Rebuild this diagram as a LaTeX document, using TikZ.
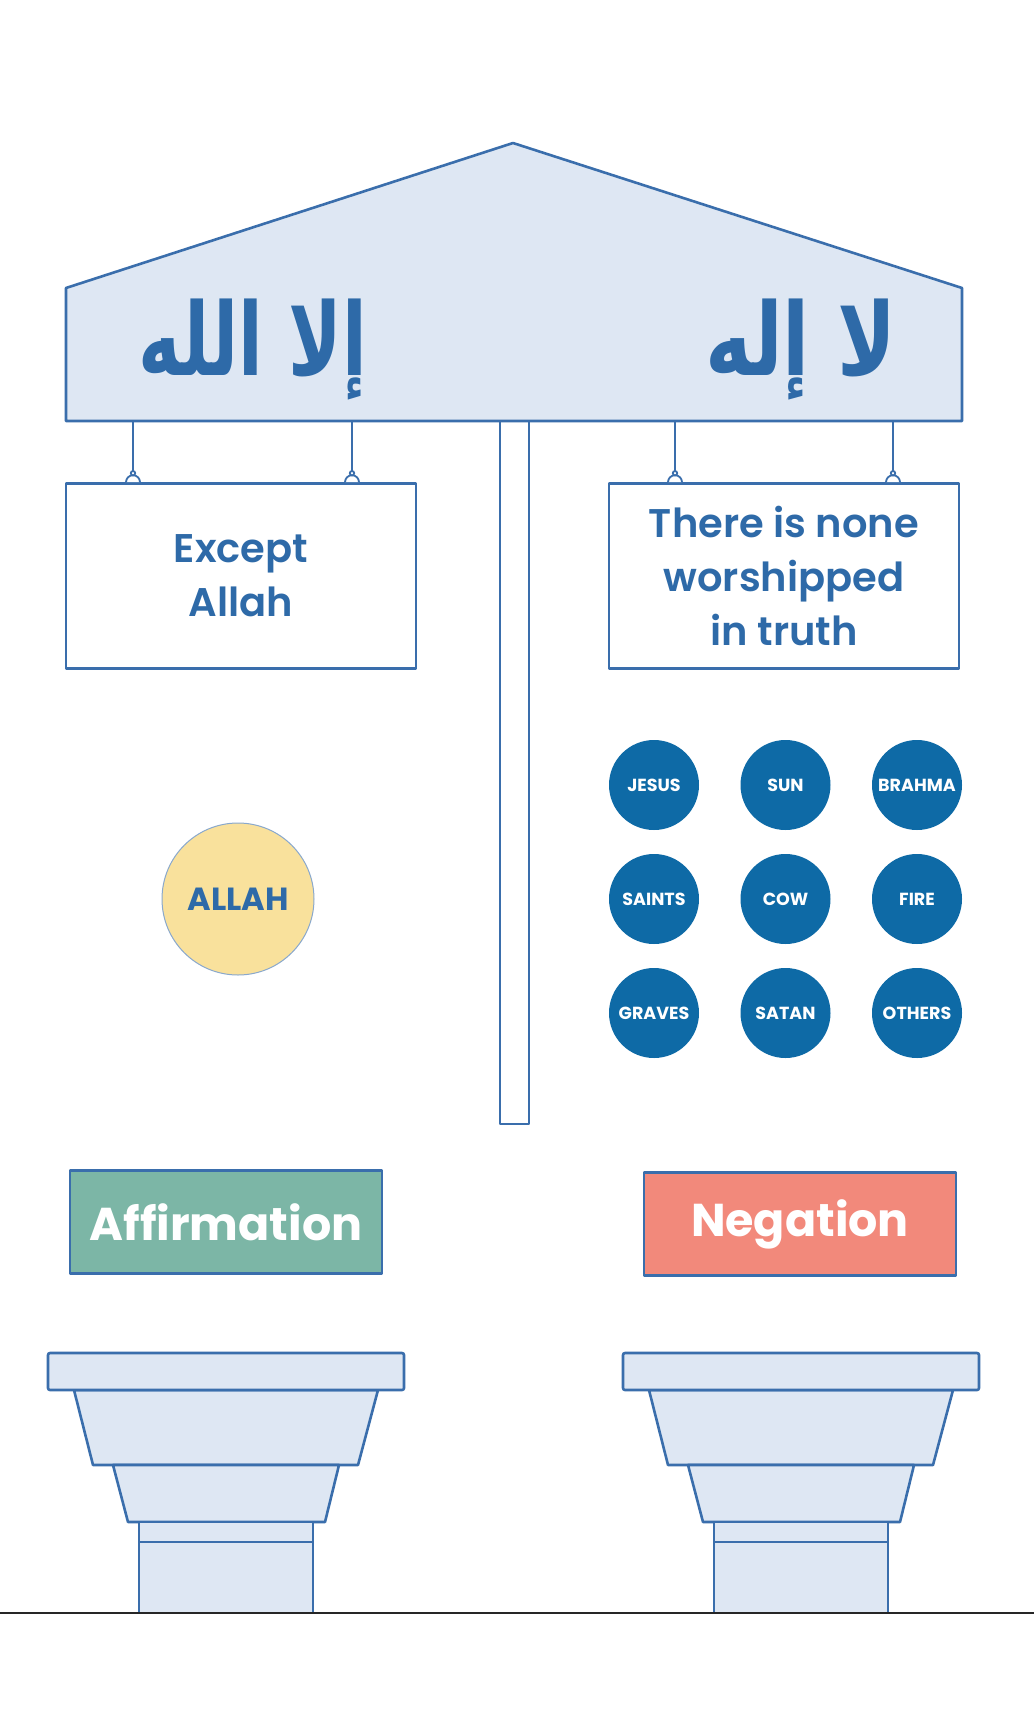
\documentclass[tikz,border=0pt]{standalone}
\usepackage{fontspec}
\setmainfont{Poppins}[UprightFont=* Medium, BoldFont=* SemiBold]
\newfontfamily\heavyfont{Poppins}[UprightFont=* Bold]
\newfontfamily\arabicfont[Script=Arabic]{DejaVu Sans}
\TeXXeTstate=1
\usetikzlibrary{positioning}
\definecolor{lineblue}{RGB}{58,110,172}
\definecolor{inkblue}{RGB}{46,106,168}
\definecolor{roofblue}{RGB}{222,231,243}
\definecolor{idolblue}{RGB}{14,106,166}
\definecolor{sand}{RGB}{249,225,156}
\definecolor{affirmgreen}{RGB}{124,182,166}
\definecolor{negatered}{RGB}{242,137,123}

\begin{document}
\begin{tikzpicture}[x=1pt, y=-1pt,
  every node/.style={font=\bfseries\fontsize{40}{54}\selectfont},
  outline/.style={draw=lineblue, line width=2.6pt, line join=round},
  roof/.style={outline, fill=roofblue},
  sign/.style={outline, fill=white, rectangle, minimum width=350pt, minimum height=185pt, align=center, text=inkblue, inner sep=0pt},
  hanger/.style={draw=lineblue, line width=1.8pt},
  idol/.style={circle, fill=idolblue, minimum size=90pt, inner sep=0pt, text=white, font=\heavyfont\fontsize{17.5}{17.5}\selectfont},
  tagbox/.style={outline, rectangle, minimum width=312pt, minimum height=103pt, inner sep=0pt, text=white, font=\heavyfont\fontsize{46}{46}\selectfont},
  arabic/.style={text=inkblue, font=\arabicfont\bfseries\fontsize{72}{72}\selectfont}
]
  \fill[white] (0,0) rectangle (1034,1723);
  \useasboundingbox (0,0) rectangle (1034,1723);

  % roof and post
  \draw[outline, fill=white] (500,421) rectangle (529,1124);
  \draw[roof] (66,288) -- (513,143) -- (962,288) -- (962,421) -- (66,421) -- cycle;
  \node[arabic] (illa) at (253,350) {\scalebox{1}[1.4]{\beginR إلا الله\endR}};
  \node[arabic] (lailah) at (801,350) {\scalebox{1.1}[1.4]{\beginR لا إله\endR}};

  % signs
  \node[sign] (exceptSign) at (241,576) {Except\\Allah};
  \node[sign] (noneSign)   at (784,576) {There is none\\worshipped\\in truth};

  \foreach \hx/\sgn [count=\i] in {133/exceptSign,352/exceptSign,675/noneSign,893/noneSign} {
    \coordinate (hang\i) at (\hx,421);
    \draw[hanger] (hang\i) -- (hang\i |- \sgn.north);
    \draw[hanger, fill=white] ([xshift=-7pt]hang\i |- \sgn.north) arc[start angle=180, end angle=0, radius=7pt];
    \draw[hanger, fill=white] ([yshift=9pt]hang\i |- \sgn.north) circle[radius=2.2pt];
  }

  % what is affirmed and what is negated
  \node[circle, draw=lineblue!60, line width=1pt, fill=sand, minimum size=152pt, text=inkblue,
        font=\heavyfont\fontsize{32}{32}\selectfont] (allahDisc) at (238,899) {ALLAH};
  \foreach \lbl [count=\i from 0] in {JESUS,SUN,BRAHMA,SAINTS,COW,FIRE,GRAVES,SATAN,OTHERS} {
    \pgfmathtruncatemacro\col{mod(\i,3)}
    \pgfmathtruncatemacro\row{div(\i,3)}
    \node[idol] (idol\i) at (654+131.5*\col, 785+114*\row) {\lbl};
  }

  \node[tagbox, fill=affirmgreen] (affirm) at (226,1222) {Affirmation};
  \node[tagbox, fill=negatered]   (negate) at (800,1224) {Negation};

  % columns
  \foreach \cx in {226,801} {
    \draw[roof] (\cx-152,1390) -- (\cx+152,1390) -- (\cx+132,1465) -- (\cx-133,1465) -- cycle;
    \draw[roof] (\cx-113,1465) -- (\cx+113,1465) -- (\cx+99,1522) -- (\cx-98,1522) -- cycle;
    \draw[roof, rounded corners=2pt] (\cx-178,1353) rectangle (\cx+178,1390);
    \draw[roof] (\cx-87,1522) rectangle (\cx+87,1542);
    \draw[roof] (\cx-87,1542) rectangle (\cx+87,1613);
  }
  \draw[black!85, line width=1.4pt] (0,1613) -- (1034,1613);
\end{tikzpicture}
\end{document}
